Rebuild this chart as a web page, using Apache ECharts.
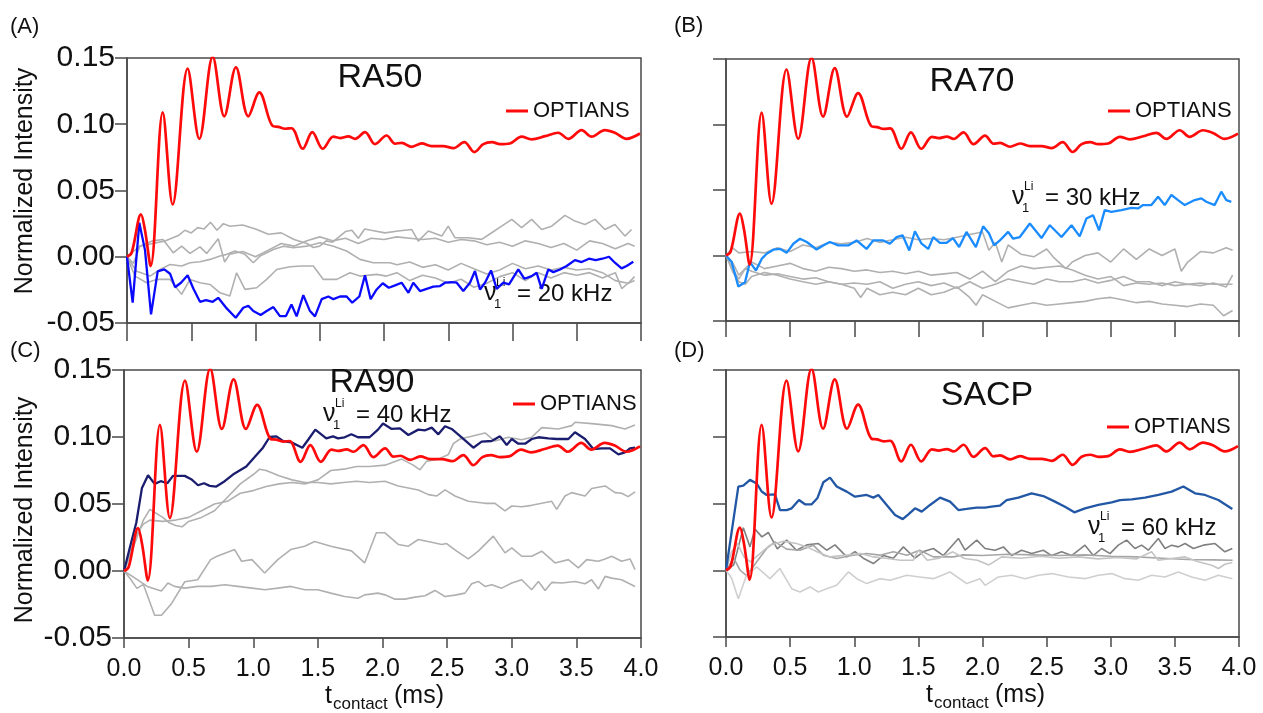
<!DOCTYPE html>
<html><head><meta charset="utf-8">
<script src="https://cdn.jsdelivr.net/npm/echarts@6/dist/echarts.min.js"></script>
<style>html,body{margin:0;padding:0;background:#fff}#c{width:1263px;height:713px}</style>
</head><body><div id="c"></div><script>
const FONT = "'Liberation Sans', Arial, Helvetica, sans-serif";

// ---- data: [t_contact (ms), normalized intensity] ----
const optians = [[0,0],[0.036,0.003],[0.109,0.032],[0.14,0.02],[0.184,-0.007],[0.278,0.109],[0.355,0.0395],[0.472,0.142],[0.563,0.089],[0.667,0.151],[0.757,0.106],[0.848,0.143],[0.944,0.106],[1.03,0.124],[1.134,0.0986],[1.178,0.098],[1.23,0.0966],[1.28,0.097],[1.367,0.0815],[1.442,0.094],[1.523,0.0815],[1.606,0.0906],[1.658,0.0896],[1.722,0.0908],[1.775,0.089],[1.852,0.094],[1.93,0.085],[2.02,0.0915],[2.086,0.0853],[2.137,0.086],[2.215,0.083],[2.293,0.0855],[2.37,0.0835],[2.46,0.0835],[2.54,0.082],[2.625,0.0865],[2.703,0.079],[2.773,0.085],[2.84,0.0865],[2.903,0.085],[2.98,0.0855],[3.071,0.0906],[3.149,0.0886],[3.253,0.091],[3.356,0.0936],[3.434,0.089],[3.538,0.0956],[3.615,0.0906],[3.719,0.0956],[3.797,0.0936],[3.888,0.089],[3.992,0.093]];

const ra50_20kHz = [[0,0],[0.044,-0.0347],[0.096,0.0257],[0.14,0.005],[0.187,-0.0435],[0.239,-0.011],[0.29,-0.0095],[0.335,-0.0128],[0.374,-0.023],[0.42,-0.0196],[0.472,-0.014],[0.516,-0.024],[0.568,-0.034],[0.615,-0.0327],[0.667,-0.034],[0.71,-0.031],[0.776,-0.039],[0.846,-0.046],[0.905,-0.0385],[0.944,-0.037],[0.983,-0.041],[1.04,-0.044],[1.087,-0.041],[1.139,-0.038],[1.19,-0.0448],[1.237,-0.0448],[1.28,-0.036],[1.32,-0.045],[1.372,-0.029],[1.424,-0.041],[1.463,-0.045],[1.515,-0.032],[1.567,-0.03],[1.606,-0.032],[1.658,-0.03],[1.709,-0.03],[1.753,-0.0347],[1.808,-0.03],[1.852,-0.014],[1.896,-0.032],[1.943,-0.0247],[1.99,-0.02],[2.037,-0.0234],[2.086,-0.0216],[2.137,-0.0196],[2.19,-0.0272],[2.228,-0.0196],[2.28,-0.0259],[2.332,-0.0242],[2.384,-0.0226],[2.436,-0.0221],[2.475,-0.0196],[2.527,-0.0191],[2.566,-0.0196],[2.617,-0.0259],[2.669,-0.0196],[2.708,-0.0108],[2.747,-0.0247],[2.786,-0.0196],[2.833,-0.0103],[2.877,-0.0242],[2.929,-0.0196],[2.973,-0.0209],[3.045,-0.0096],[3.092,-0.0166],[3.149,-0.0146],[3.188,-0.0121],[3.227,-0.0242],[3.279,-0.0096],[3.318,-0.0116],[3.37,-0.0096],[3.421,-0.007],[3.486,-0.0025],[3.538,-0.004],[3.595,-0.0015],[3.647,-0.0025],[3.699,-0.0015],[3.751,0],[3.797,-0.0045],[3.849,-0.0088],[3.888,-0.007],[3.94,-0.0038]];
const ra50_gray1 = [[0,0],[0.05,0.004],[0.1,0.008],[0.2,0.01],[0.3,0.012],[0.4,0.016],[0.45,0.02],[0.5,0.018],[0.55,0.022],[0.6,0.021],[0.65,0.026],[0.7,0.02],[0.75,0.025],[0.8,0.023],[0.9,0.024],[1.0,0.021],[1.1,0.017],[1.2,0.018],[1.3,0.013],[1.4,0.01],[1.45,0.007],[1.5,0.008],[1.55,0.012],[1.6,0.011],[1.7,0.019],[1.75,0.02],[1.8,0.014],[1.85,0.021],[1.9,0.02],[2.008,0.018],[2.11,0.0194],[2.215,0.0206],[2.267,0.0118],[2.345,0.0194],[2.449,0.0156],[2.5,0.0231],[2.553,0.0143],[2.656,0.0143],[2.76,0.0131],[2.838,0.0181],[2.916,0.0231],[2.994,0.0282],[3.071,0.0219],[3.149,0.0282],[3.227,0.0206],[3.305,0.0231],[3.408,0.0312],[3.486,0.0269],[3.564,0.0244],[3.642,0.0282],[3.719,0.0206],[3.797,0.0244],[3.875,0.0156],[3.927,0.0206]];
const ra50_gray2 = [[0,0],[0.05,-0.005],[0.1,0.008],[0.15,0.01],[0.2,0.012],[0.28,0.013],[0.36,0.003],[0.425,0.008],[0.49,0.0025],[0.568,0.0075],[0.62,0.0025],[0.71,0.0136],[0.76,-0.004],[0.8,0.002],[0.9,0.004],[1.0,0.0],[1.1,0.005],[1.2,0.01],[1.3,0.008],[1.4,0.012],[1.5,0.015],[1.6,0.012],[1.7,0.014],[1.8,0.01],[1.9,0.014],[2.0,0.013],[2.1,0.015],[2.2,0.014],[2.3,0.013],[2.4,0.014],[2.5,0.011],[2.6,0.013],[2.7,0.012],[2.8,0.009],[2.9,0.011],[3.0,0.008],[3.1,0.012],[3.2,0.01],[3.3,0.007],[3.4,0.01],[3.5,0.005],[3.6,0.012],[3.7,0.01],[3.8,0.006],[3.9,0.01],[3.95,0.008]];
const ra50_gray3 = [[0,0],[0.075,-0.011],[0.18,-0.0146],[0.257,-0.0096],[0.335,-0.0058],[0.425,-0.007],[0.49,-0.0045],[0.568,-0.0038],[0.646,-0.002],[0.724,0.0005],[0.776,0.0018],[0.84,0.0043],[0.918,0.0018],[0.983,-0.0045],[1.035,0.0005],[1.139,0.0055],[1.217,0.008],[1.294,0.0068],[1.398,0.008],[1.502,0.0106],[1.606,0.008],[1.709,0.0043],[1.813,-0.002],[1.917,-0.0045],[2.047,-0.0045],[2.1,-0.006],[2.2,-0.004],[2.3,-0.008],[2.4,-0.006],[2.5,-0.01],[2.6,-0.005],[2.7,-0.009],[2.8,-0.013],[2.9,-0.01],[3.0,-0.005],[3.1,-0.009],[3.2,-0.007],[3.3,-0.01],[3.4,-0.008],[3.5,-0.01],[3.6,-0.009],[3.7,-0.012],[3.8,-0.018],[3.9,-0.02],[3.95,-0.015]];
const ra50_gray4 = [[0,0],[0.062,-0.0146],[0.153,-0.0196],[0.23,-0.0171],[0.335,-0.0171],[0.425,-0.0284],[0.49,-0.0171],[0.568,-0.0196],[0.646,-0.0209],[0.724,-0.0272],[0.8,-0.0297],[0.853,-0.0121],[0.918,-0.0246],[1.009,-0.0234],[1.087,-0.0171],[1.165,-0.0096],[1.268,-0.0075],[1.359,-0.007],[1.45,-0.007],[1.528,-0.0171],[1.632,-0.0171],[1.735,-0.0121],[1.813,-0.0146],[1.943,-0.0133],[2.02,-0.0146],[2.1,-0.012],[2.2,-0.018],[2.3,-0.014],[2.4,-0.016],[2.5,-0.02],[2.6,-0.017],[2.7,-0.023],[2.8,-0.02],[2.9,-0.015],[3.0,-0.012],[3.1,-0.018],[3.2,-0.012],[3.3,-0.016],[3.4,-0.012],[3.5,-0.014],[3.6,-0.012],[3.7,-0.016],[3.8,-0.012],[3.85,-0.024],[3.9,-0.02],[3.95,-0.018]];

const ra70_30kHz = [[0,0],[0.044,-0.005],[0.096,-0.0236],[0.148,-0.0205],[0.187,-0.005],[0.234,-0.0115],[0.278,-0.0026],[0.317,0.0013],[0.369,0.0044],[0.42,0.0051],[0.473,0.002],[0.525,0.009],[0.577,0.0128],[0.63,0.0103],[0.706,0.0046],[0.758,0.0077],[0.81,0.0103],[0.875,0.0077],[0.953,0.0077],[1.018,0.0115],[1.096,0.005],[1.148,0.0115],[1.226,0.0115],[1.278,0.009],[1.33,0.014],[1.377,0.0154],[1.429,0.0038],[1.473,0.0185],[1.525,0.009],[1.577,0.005],[1.616,0.014],[1.668,0.0097],[1.72,0.0097],[1.77,0.0133],[1.818,0.0064],[1.875,0.018],[1.948,0.0064],[2.005,0.0223],[2.05,0.017],[2.091,0.0077],[2.135,0.0115],[2.2,0.018],[2.239,0.0128],[2.291,0.0141],[2.369,0.0244],[2.46,0.0133],[2.525,0.0231],[2.616,0.0141],[2.694,0.0231],[2.758,0.0146],[2.81,0.0282],[2.862,0.0308],[2.909,0.0192],[2.953,0.0346],[3.005,0.0333],[3.083,0.0346],[3.161,0.0364],[3.213,0.0359],[3.252,0.0385],[3.317,0.0385],[3.369,0.0449],[3.421,0.0385],[3.473,0.0462],[3.525,0.0423],[3.577,0.0385],[3.655,0.0423],[3.706,0.0436],[3.745,0.041],[3.81,0.0385],[3.862,0.0487],[3.901,0.0423],[3.94,0.041]];
const ra70_gray1 = [[0,0],[0.05,0.006],[0.1,0.002],[0.2,0.003],[0.3,0.002],[0.4,0.006],[0.5,0.003],[0.6,0.008],[0.7,0.006],[0.8,0.01],[0.9,0.009],[1.0,0.01],[1.1,0.013],[1.2,0.01],[1.3,0.012],[1.4,0.014],[1.5,0.012],[1.6,0.013],[1.7,0.012],[1.8,0.014],[1.9,0.016],[2.0,0.018],[2.05,0.004],[2.1,0.01],[2.15,-0.005],[2.2,0.008],[2.3,0.001],[2.4,-0.001],[2.5,0.005],[2.55,-0.001],[2.65,-0.01],[2.7,-0.005],[2.8,0.0],[2.9,0.002],[3.0,-0.005],[3.1,0.005],[3.2,-0.003],[3.3,0.005],[3.4,0.0],[3.5,0.005],[3.55,-0.012],[3.6,-0.005],[3.7,0.003],[3.8,0.002],[3.9,0.006],[3.95,0.004]];
const ra70_gray2 = [[0,0],[0.05,-0.005],[0.1,-0.015],[0.15,-0.01],[0.2,-0.005],[0.3,-0.01],[0.4,-0.008],[0.5,-0.006],[0.6,-0.01],[0.7,-0.012],[0.8,-0.009],[0.9,-0.01],[1.0,-0.012],[1.1,-0.011],[1.2,-0.013],[1.3,-0.012],[1.4,-0.014],[1.5,-0.012],[1.6,-0.015],[1.7,-0.014],[1.8,-0.013],[1.9,-0.018],[2.0,-0.012],[2.1,-0.02],[2.2,-0.012],[2.3,-0.008],[2.4,-0.01],[2.5,-0.009],[2.6,-0.008],[2.7,-0.011],[2.8,-0.015],[2.9,-0.018],[3.0,-0.016],[3.1,-0.023],[3.2,-0.021],[3.3,-0.022],[3.4,-0.021],[3.5,-0.023],[3.6,-0.022],[3.7,-0.023],[3.8,-0.021],[3.9,-0.024],[3.95,-0.015]];
const ra70_gray3 = [[0,0],[0.05,-0.01],[0.1,-0.018],[0.15,-0.01],[0.2,-0.012],[0.3,-0.015],[0.4,-0.014],[0.5,-0.016],[0.6,-0.018],[0.7,-0.017],[0.8,-0.02],[0.9,-0.022],[1.0,-0.021],[1.1,-0.022],[1.2,-0.02],[1.3,-0.025],[1.4,-0.022],[1.5,-0.02],[1.6,-0.023],[1.7,-0.021],[1.8,-0.025],[1.9,-0.02],[2.0,-0.025],[2.1,-0.022],[2.2,-0.018],[2.3,-0.02],[2.4,-0.022],[2.5,-0.018],[2.6,-0.02],[2.7,-0.02],[2.8,-0.018],[2.9,-0.021],[3.0,-0.019],[3.1,-0.016],[3.2,-0.02],[3.3,-0.02],[3.4,-0.023],[3.5,-0.02],[3.6,-0.022],[3.7,-0.021],[3.8,-0.022],[3.9,-0.022],[3.95,-0.022]];
const ra70_gray4 = [[0,0],[0.05,-0.012],[0.1,-0.02],[0.15,-0.022],[0.2,-0.016],[0.3,-0.013],[0.4,-0.015],[0.5,-0.018],[0.6,-0.02],[0.7,-0.022],[0.8,-0.02],[0.9,-0.022],[1.0,-0.025],[1.05,-0.032],[1.1,-0.025],[1.2,-0.03],[1.3,-0.028],[1.4,-0.03],[1.5,-0.025],[1.6,-0.03],[1.7,-0.028],[1.8,-0.024],[1.9,-0.032],[1.95,-0.038],[2.0,-0.03],[2.1,-0.035],[2.2,-0.04],[2.3,-0.038],[2.4,-0.036],[2.5,-0.038],[2.6,-0.037],[2.7,-0.036],[2.8,-0.035],[2.9,-0.033],[3.0,-0.032],[3.1,-0.034],[3.2,-0.036],[3.3,-0.035],[3.4,-0.037],[3.5,-0.038],[3.6,-0.039],[3.7,-0.037],[3.8,-0.038],[3.88,-0.046],[3.95,-0.042]];

const ra90_40kHz = [[0,0],[0.044,0.017],[0.095,0.036],[0.139,0.062],[0.186,0.0715],[0.237,0.065],[0.284,0.067],[0.335,0.0655],[0.379,0.071],[0.47,0.071],[0.52,0.0685],[0.573,0.064],[0.619,0.0655],[0.663,0.0635],[0.714,0.063],[0.779,0.067],[0.843,0.072],[0.946,0.078],[1.011,0.085],[1.075,0.092],[1.127,0.1],[1.179,0.1005],[1.23,0.097],[1.295,0.096],[1.38,0.092],[1.429,0.0985],[1.48,0.1055],[1.565,0.099],[1.617,0.1005],[1.656,0.099],[1.707,0.0998],[1.759,0.102],[1.81,0.0998],[1.9,0.0998],[1.965,0.1055],[2.004,0.11],[2.071,0.106],[2.135,0.1065],[2.2,0.1015],[2.277,0.1055],[2.33,0.105],[2.381,0.107],[2.432,0.102],[2.484,0.108],[2.535,0.106],[2.612,0.0998],[2.703,0.092],[2.767,0.0965],[2.845,0.097],[2.909,0.1005],[2.961,0.094],[3.0,0.0985],[3.051,0.095],[3.103,0.095],[3.155,0.0985],[3.206,0.0998],[3.283,0.099],[3.348,0.0985],[3.438,0.0985],[3.489,0.1035],[3.567,0.0985],[3.631,0.091],[3.696,0.0915],[3.76,0.0915],[3.825,0.087],[3.876,0.0885],[3.915,0.0915],[3.954,0.092]];
const ra90_gray1 = [[0,0],[0.05,0.012],[0.1,0.025],[0.15,0.038],[0.2,0.046],[0.25,0.043],[0.3,0.04],[0.35,0.036],[0.4,0.034],[0.45,0.033],[0.5,0.037],[0.6,0.04],[0.7,0.045],[0.8,0.055],[0.9,0.065],[1.0,0.072],[1.05,0.076],[1.1,0.075],[1.2,0.071],[1.3,0.068],[1.4,0.066],[1.5,0.066],[1.6,0.065],[1.7,0.066],[1.8,0.067],[1.9,0.066],[2.019,0.067],[2.122,0.0635],[2.2,0.062],[2.277,0.0605],[2.355,0.057],[2.42,0.056],[2.484,0.0605],[2.561,0.056],[2.664,0.052],[2.793,0.0505],[2.87,0.0505],[2.948,0.0448],[3.0,0.0485],[3.077,0.048],[3.154,0.049],[3.232,0.0505],[3.309,0.052],[3.348,0.046],[3.412,0.056],[3.464,0.0585],[3.567,0.056],[3.618,0.0615],[3.722,0.0635],[3.8,0.0585],[3.85,0.058],[3.9,0.0555],[3.954,0.059]];
const ra90_gray2 = [[0,0],[0.05,0.015],[0.1,0.028],[0.15,0.035],[0.2,0.038],[0.3,0.037],[0.4,0.038],[0.5,0.04],[0.6,0.045],[0.7,0.05],[0.8,0.052],[0.9,0.058],[1.0,0.06],[1.1,0.063],[1.2,0.065],[1.3,0.066],[1.4,0.065],[1.5,0.068],[1.6,0.075],[1.7,0.076],[1.8,0.078],[1.9,0.078],[2.019,0.079],[2.148,0.0835],[2.238,0.079],[2.29,0.0755],[2.342,0.082],[2.432,0.0835],[2.51,0.087],[2.548,0.095],[2.6,0.0985],[2.69,0.1005],[2.793,0.103],[2.87,0.097],[2.974,0.0998],[3.077,0.098],[3.154,0.0998],[3.232,0.107],[3.361,0.106],[3.464,0.1085],[3.49,0.111],[3.619,0.11],[3.773,0.1085],[3.876,0.106],[3.954,0.109]];
const ra90_gray3 = [[0,0],[0.05,-0.006],[0.1,-0.013],[0.15,-0.01],[0.237,-0.033],[0.29,-0.033],[0.37,-0.024],[0.47,-0.008],[0.57,-0.0065],[0.67,0.0085],[0.72,0.011],[0.856,0.016],[0.91,0.0073],[0.99,0.0085],[1.088,-0.0015],[1.19,0.0085],[1.29,0.016],[1.398,0.0185],[1.475,0.022],[1.6,0.0185],[1.76,0.015],[1.862,0.006],[1.952,0.0285],[2.019,0.0285],[2.122,0.0198],[2.2,0.0185],[2.277,0.0235],[2.38,0.0215],[2.458,0.0198],[2.496,0.0205],[2.574,0.0148],[2.664,0.009],[2.741,0.0148],[2.857,0.026],[2.948,0.0135],[3.0,0.0173],[3.077,0.011],[3.154,0.011],[3.232,0.0148],[3.335,0.006],[3.438,0.0085],[3.515,0.0023],[3.58,0.0085],[3.67,0.0073],[3.722,0.009],[3.773,0.011],[3.85,0.0073],[3.915,0.009],[3.954,0.001]];
const ra90_gray4 = [[0,0],[0.08,-0.005],[0.18,-0.0115],[0.289,-0.015],[0.34,-0.009],[0.39,-0.0115],[0.47,-0.0128],[0.57,-0.0115],[0.676,-0.0115],[0.78,-0.0103],[0.88,-0.0115],[0.99,-0.0128],[1.09,-0.014],[1.19,-0.0128],[1.29,-0.0115],[1.4,-0.014],[1.5,-0.014],[1.6,-0.0165],[1.707,-0.019],[1.81,-0.0203],[1.862,-0.0178],[1.965,-0.0165],[2.019,-0.0178],[2.097,-0.021],[2.174,-0.021],[2.251,-0.0195],[2.329,-0.0185],[2.406,-0.0145],[2.483,-0.019],[2.561,-0.018],[2.638,-0.0165],[2.69,-0.0095],[2.741,-0.0078],[2.793,-0.0115],[2.845,-0.0103],[2.922,-0.0128],[3.0,-0.009],[3.077,-0.0065],[3.154,-0.014],[3.206,-0.0078],[3.258,-0.0145],[3.309,-0.0085],[3.387,-0.009],[3.49,-0.0078],[3.567,-0.0095],[3.618,-0.0065],[3.67,-0.0135],[3.722,-0.004],[3.773,-0.0053],[3.85,-0.0065],[3.9,-0.009],[3.954,-0.0115]];

const sacp_60kHz = [[0,0],[0.096,0.0627],[0.135,0.0634],[0.187,0.0677],[0.239,0.065],[0.278,0.059],[0.317,0.0564],[0.382,0.0569],[0.421,0.0451],[0.473,0.0451],[0.512,0.0464],[0.569,0.0526],[0.616,0.0494],[0.668,0.0494],[0.712,0.0539],[0.759,0.0659],[0.811,0.0694],[0.863,0.0627],[0.941,0.0589],[1.006,0.0551],[1.097,0.0564],[1.149,0.0544],[1.188,0.0564],[1.253,0.0489],[1.318,0.0414],[1.378,0.0383],[1.422,0.0419],[1.474,0.0464],[1.526,0.0439],[1.591,0.0489],[1.669,0.0544],[1.747,0.0514],[1.812,0.0451],[1.877,0.0459],[1.955,0.0469],[2.02,0.0469],[2.071,0.0476],[2.136,0.0484],[2.188,0.0526],[2.28,0.0544],[2.383,0.0576],[2.474,0.0556],[2.565,0.0514],[2.643,0.0476],[2.716,0.0434],[2.799,0.0464],[2.903,0.0489],[3.007,0.0509],[3.072,0.0526],[3.163,0.0531],[3.267,0.0544],[3.371,0.0564],[3.475,0.0589],[3.566,0.0627],[3.657,0.0576],[3.735,0.0564],[3.839,0.0526],[3.948,0.0459]];
const sacp_gray1 = [[0,0],[0.06,0.004],[0.135,0.0318],[0.187,0.0175],[0.226,0.0308],[0.28,0.025],[0.33,0.0283],[0.4,0.016],[0.473,0.0226],[0.55,0.015],[0.63,0.019],[0.72,0.02],[0.785,0.015],[0.85,0.019],[0.941,0.01],[1.006,0.014],[1.07,0.009],[1.149,0.005],[1.227,0.011],[1.305,0.009],[1.383,0.0175],[1.474,0.009],[1.54,0.014],[1.617,0.0163],[1.695,0.011],[1.812,0.0238],[1.864,0.015],[1.955,0.0226],[2.02,0.0163],[2.098,0.015],[2.163,0.0175],[2.227,0.011],[2.305,0.015],[2.383,0.0125],[2.474,0.015],[2.54,0.011],[2.617,0.0138],[2.695,0.011],[2.799,0.0188],[2.864,0.011],[2.929,0.0163],[2.994,0.0125],[3.059,0.0188],[3.124,0.0226],[3.189,0.0163],[3.241,0.0188],[3.293,0.015],[3.371,0.0238],[3.423,0.0163],[3.475,0.0188],[3.527,0.0175],[3.579,0.02],[3.644,0.0163],[3.722,0.0188],[3.813,0.02],[3.89,0.0138],[3.948,0.0163]];
const sacp_gray2 = [[0,0],[0.06,0.009],[0.11,0.0],[0.16,-0.004],[0.21,0.0025],[0.26,0.009],[0.317,0.0163],[0.382,0.0213],[0.473,0.0158],[0.577,0.015],[0.68,0.0188],[0.759,0.0113],[0.863,0.0088],[0.99,0.0113],[1.097,0.0125],[1.2,0.0113],[1.305,0.0138],[1.41,0.0113],[1.51,0.015],[1.617,0.01],[1.773,0.01],[1.85,0.0115],[2.0,0.011],[2.2,0.012],[2.4,0.0115],[2.6,0.011],[2.8,0.0115],[3.0,0.0105],[3.2,0.01],[3.4,0.009],[3.6,0.008],[3.8,0.0078],[3.95,0.0075]];
const sacp_gray3 = [[0,0],[0.044,0.0138],[0.09,0.02],[0.14,0.01],[0.19,0.0063],[0.26,0.012],[0.343,0.0188],[0.447,0.0218],[0.55,0.02],[0.63,0.0175],[0.71,0.0138],[0.81,0.01],[0.94,0.0113],[1.05,0.0125],[1.15,0.01],[1.26,0.0088],[1.36,0.0075],[1.46,0.0075],[1.5,0.015],[1.57,0.0075],[1.66,0.009],[1.77,0.0138],[1.86,0.0088],[1.96,0.0075],[2.05,0.004],[2.15,0.01],[2.3,0.009],[2.45,0.0105],[2.6,0.009],[2.75,0.01],[2.9,0.0085],[3.05,0.0095],[3.2,0.0085],[3.318,0.0138],[3.37,0.0075],[3.475,0.0088],[3.579,0.01],[3.683,0.0063],[3.787,0.0038],[3.84,0.0013],[3.89,0.0045],[3.948,0.0058]];
const sacp_gray4 = [[0,0],[0.044,-0.006],[0.096,-0.0213],[0.16,-0.0038],[0.239,0.0025],[0.343,-0.0063],[0.42,0.0013],[0.512,-0.0138],[0.577,-0.0163],[0.655,-0.0125],[0.72,-0.0163],[0.785,-0.0138],[0.863,-0.0113],[0.954,-0.0013],[1.02,-0.0063],[1.097,-0.01],[1.2,-0.0063],[1.28,-0.0075],[1.41,-0.0038],[1.51,-0.005],[1.617,-0.0063],[1.747,-0.0013],[1.877,-0.01],[1.98,-0.0063],[2.02,-0.0113],[2.124,-0.005],[2.228,-0.0038],[2.332,-0.0063],[2.436,-0.0038],[2.54,-0.0025],[2.67,-0.005],[2.799,-0.0063],[2.903,-0.0038],[3.007,-0.0025],[3.111,-0.0063],[3.215,-0.0075],[3.319,-0.0038],[3.423,-0.005],[3.527,-0.0013],[3.631,-0.005],[3.735,-0.0075],[3.839,-0.0038],[3.948,-0.0063]];

const panelLetters = ['(A)','(B)','(C)','(D)'];
const sampleNames = ['RA50','RA70','RA90','SACP'];
const fieldKHz = ['20','30','40','60'];
const seriesName = 'OPTIANS';
const axisTitleY = 'Normalized Intensity';

// ---- layout / styling ----
const panels = [
  {grid:{left:127,top:58,width:514,height:265}, xLabels:false, yLabels:true, xTick:18, yTick:12,
   hi:ra50_20kHz, hiColor:'#0a0aff', grays:[ra50_gray1,ra50_gray2,ra50_gray3,ra50_gray4], grayColors:['#b0b0b0','#b0b0b0','#b0b0b0','#b0b0b0'],
   title:[380,78], nu:[484,294], leg:[506,112], letter:[10,27]},
  {grid:{left:726,top:59,width:513,height:262}, xLabels:false, yLabels:false, xTick:16, yTick:13,
   hi:ra70_30kHz, hiColor:'#1a8cff', grays:[ra70_gray1,ra70_gray2,ra70_gray3,ra70_gray4], grayColors:['#b0b0b0','#b0b0b0','#b0b0b0','#b0b0b0'],
   title:[972,82], nu:[1012,198], leg:[1108,112], letter:[674,26]},
  {grid:{left:124,top:370,width:517,height:268}, xLabels:true, yLabels:true, xTick:10, yTick:12,
   hi:ra90_40kHz, hiColor:'#1b1d6e', grays:[ra90_gray1,ra90_gray2,ra90_gray3,ra90_gray4], grayColors:['#b0b0b0','#b0b0b0','#b0b0b0','#b0b0b0'],
   title:[372,383], nu:[323,415], leg:[513,405], letter:[10,351]},
  {grid:{left:726,top:370,width:513,height:267}, xLabels:true, yLabels:false, xTick:10, yTick:13,
   hi:sacp_60kHz, hiColor:'#2257a5', grays:[sacp_gray1,sacp_gray2,sacp_gray3,sacp_gray4], grayColors:['#808080','#a6a6a6','#c4c4c4','#cfcfcf'],
   title:[987,396], nu:[1088,528], leg:[1107,428], letter:[674,351]}
];

const FRAME = '#4a4a4a';
const grids = [], xAxes = [], yAxes = [], series = [], legends = [], graphics = [];

panels.forEach((p, i) => {
  grids.push(Object.assign({show:true, borderColor:FRAME, borderWidth:1.5, backgroundColor:'transparent', outerBoundsMode:'none', containLabel:false}, p.grid));
  xAxes.push({type:'value', gridIndex:i, min:0, max:4, interval:0.5,
    axisLine:{show:true, onZero:false, lineStyle:{color:FRAME, width:1.5}},
    axisTick:{show:true, inside:false, length:p.xTick, lineStyle:{color:FRAME, width:1.5}},
    axisLabel:{show:p.xLabels, margin:19, color:'#111', fontFamily:FONT, fontSize:25, formatter:v => v.toFixed(1)},
    splitLine:{show:false}});
  yAxes.push({type:'value', gridIndex:i, min:-0.05, max:0.15, interval:0.05,
    axisLine:{show:true, onZero:false, lineStyle:{color:FRAME, width:1.5}},
    axisTick:{show:true, inside:false, length:p.yTick, lineStyle:{color:FRAME, width:1.5}},
    axisLabel:{show:p.yLabels, margin:12, color:'#111', fontFamily:FONT, fontSize:30, formatter:v => (Math.abs(v)<1e-9?0:v).toFixed(2)},
    splitLine:{show:false}});
  p.grays.forEach((g, k) => series.push({type:'line', name:'gray'+i+k, xAxisIndex:i, yAxisIndex:i, data:g, showSymbol:false, z:1,
    lineStyle:{color:p.grayColors[k], width:1.6}, itemStyle:{color:p.grayColors[k]}}));
  series.push({type:'line', name:'hi'+i, xAxisIndex:i, yAxisIndex:i, data:p.hi, showSymbol:false, z:2,
    lineStyle:{color:p.hiColor, width:2.3}, itemStyle:{color:p.hiColor}});
  series.push({type:'line', name:seriesName, xAxisIndex:i, yAxisIndex:i, data:optians, showSymbol:false, smooth:0.35, z:3,
    lineStyle:{color:'#ff0a0a', width:2.7}, itemStyle:{color:'#ff0a0a'}});
  legends.push({data:[seriesName], left:p.leg[0], top:p.leg[1]-12, padding:0, icon:'rect', itemWidth:22, itemHeight:3, itemGap:0,
    textStyle:{fontFamily:FONT, fontSize:22, color:'#111'}, selectedMode:false});

  // panel letter, sample title
  graphics.push({type:'text', style:{text:panelLetters[i], x:p.letter[0], y:p.letter[1], fill:'#111', font:'22px '+FONT, textVerticalAlign:'middle'}});
  graphics.push({type:'text', style:{text:sampleNames[i], x:p.title[0], y:p.title[1], fill:'#111', font:'34px '+FONT, textAlign:'center', textVerticalAlign:'middle'}});
  // ν1^Li = xx kHz
  const nx = p.nu[0], ny = p.nu[1];
  graphics.push({type:'text', style:{text:'ν', x:nx, y:ny-1, fill:'#111', font:'25px '+FONT, textVerticalAlign:'middle'}});
  graphics.push({type:'text', style:{text:'Li', x:nx+12, y:ny-11, fill:'#111', font:'12px '+FONT, textVerticalAlign:'middle'}});
  graphics.push({type:'text', style:{text:'1', x:nx+10, y:ny+10, fill:'#111', font:'13px '+FONT, textVerticalAlign:'middle'}});
  graphics.push({type:'text', style:{text:'= ' + fieldKHz[i] + ' kHz', x:nx+33, y:ny, fill:'#111', font:'24px '+FONT, textVerticalAlign:'middle'}});
});

// y-axis names
[[25,181],[25,510]].forEach(([x,y]) => graphics.push({type:'text', x:x, y:y, rotation:Math.PI/2,
  style:{text:axisTitleY, x:0, y:0, fill:'#111', font:'25px '+FONT, textAlign:'center', textVerticalAlign:'middle'}}));
// x-axis names
[[325,696],[926,695]].forEach(([x,y]) => {
  graphics.push({type:'text', style:{text:'t', x:x, y:y, fill:'#111', font:'25px '+FONT, textVerticalAlign:'middle'}});
  graphics.push({type:'text', style:{text:'contact', x:x+8, y:y+8, fill:'#111', font:'17px '+FONT, textVerticalAlign:'middle'}});
  graphics.push({type:'text', style:{text:'(ms)', x:x+69, y:y, fill:'#111', font:'25px '+FONT, textVerticalAlign:'middle'}});
});

const chart = echarts.init(document.getElementById('c'), null, {renderer:'canvas'});
chart.setOption({animation:false, backgroundColor:'#fff', grid:grids, xAxis:xAxes, yAxis:yAxes, series:series, legend:legends, graphic:graphics});
</script></body></html>
